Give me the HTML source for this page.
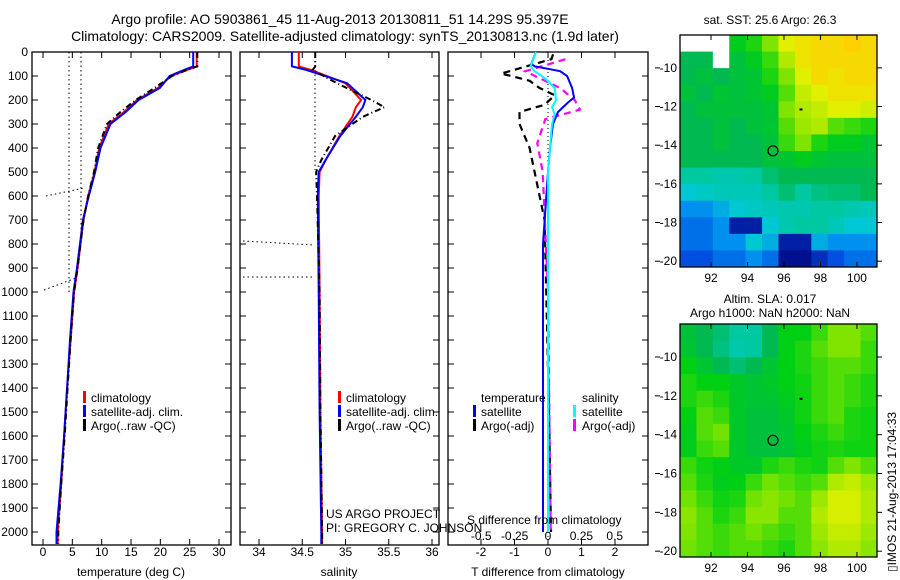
<!DOCTYPE html>
<html><head><meta charset="utf-8">
<style>
html,body{margin:0;padding:0;background:#fff;}
svg{display:block;font-family:"Liberation Sans",sans-serif;}
</style></head>
<body>
<svg id="fig" width="900" height="580" viewBox="0 0 900 580">
<text x="340" y="24" font-size="14" text-anchor="middle">Argo profile: AO 5903861_45 11-Aug-2013 20130811_51 14.29S 95.397E</text>
<text x="345" y="41" font-size="14" text-anchor="middle">Climatology: CARS2009. Satellite-adjusted climatology: synTS_20130813.nc (1.9d later)</text>
<g id="p1"></g>
<g id="p2"></g>
<g id="p3"></g>
<g id="m1"></g>
<g id="m2"></g>
<text x="770" y="24" font-size="12" text-anchor="middle">sat. SST: 25.6 Argo: 26.3</text>
<text x="770" y="303" font-size="12" text-anchor="middle">Altim. SLA: 0.017</text>
<text x="770" y="317" font-size="12" text-anchor="middle">Argo h1000: NaN h2000: NaN</text>
<text transform="translate(896,572) rotate(-90)" font-size="12">▯IMOS 21-Aug-2013 17:04:33</text>
</svg>
<script>
// ---- data ----
const tDepths = [0,60,75,100,150,200,250,300,400,500,600,700,800,900,1000,1200,1400,1600,1800,2000,2050];
const tClim   = [26.2,26.2,24.5,21.8,19.6,16.0,13.8,11.2,9.6,8.8,7.7,6.9,6.4,5.9,5.3,4.7,4.1,3.6,3.1,2.5,2.5];
const tSat    = [25.6,25.6,24.0,21.6,19.9,16.3,14.1,11.5,9.8,8.9,7.8,6.8,6.3,5.8,5.2,4.6,4.1,3.6,3.0,2.3,2.3];
const tArgo   = [26.3,26.3,24.5,22.0,19.0,15.8,13.2,10.9,9.4,8.7,7.7,6.9,6.4,5.9,5.3,4.7,4.2,3.7,3.1,2.6,2.6];
const sDepths = [0,60,75,130,200,230,270,350,450,500,600,1000,1500,2000,2050];
const sClim   = [34.46,34.46,34.6,35.0,35.18,35.12,35.08,34.93,34.77,34.7,34.69,34.7,34.71,34.73,34.73];
const sSat    = [34.38,34.38,34.55,35.02,35.23,35.2,35.12,34.94,34.77,34.69,34.68,34.69,34.7,34.72,34.72];
const sArgo   = [34.65,34.65,34.62,34.9,35.3,35.45,35.2,34.88,34.72,34.66,34.67,34.7,34.71,34.73,34.73];
const dtSatDepths = [0,50,60,70,80,100,150,190,210,250,300,400,500,800,2000];
const dtSat       = [-0.36,-0.5,-0.39,0,0.36,0.57,0.72,0.78,0.6,0.3,0.15,0.06,0,-0.15,-0.15];
const dsSatDepths = [0,60,80,110,150,200,230,260,300,500,2000];
const dsSat       = [-0.09,-0.13,-0.1,-0.02,0.05,0.06,0.03,0.05,0.03,0,0];
const dtArgoDepths= [10,30,90,100,120,150,180,220,250,300,400,500,700,1500,2000];
const dtArgo      = [0.15,0.1,-1.4,-1.1,-0.55,-0.25,0.2,-0.1,-0.85,-0.85,-0.55,-0.4,-0.1,0.03,0.09];
const dsArgoDepths= [30,80,110,150,200,240,280,380,500,1000,2000];
const dsArgo      = [0.13,-0.17,-0.06,0.09,0.2,0.24,-0.02,-0.08,-0.04,0,0.02];
const depthTicks = [0,100,200,300,400,500,600,700,800,900,1000,1100,1200,1300,1400,1500,1600,1700,1800,1900,2000];
const tTicks = [0,5,10,15,20,25,30];
const sTicks = [34,34.5,35,35.5,36];
const dtTicks = [-2,-1,0,1,2];
const dsTicks = [-0.5,-0.25,0,0.25,0.5];
const sstGrid = [
[-1,-1,-1,.65,.68,.75,.85,.88,.9,.9,.92,.9],
[.6,.6,-1,.62,.65,.7,.8,.88,.9,.9,.9,.9],
[.6,.62,.6,.62,.63,.68,.75,.85,.9,.88,.9,.9],
[.62,.6,.63,.62,.63,.65,.72,.82,.85,.88,.88,.88],
[.6,.62,.62,.62,.62,.63,.75,.8,.82,.85,.85,.83],
[.6,.6,.62,.6,.62,.63,.72,.78,.8,.72,.7,.68],
[.6,.6,.62,.6,.6,.62,.7,.75,.68,.65,.65,.63],
[.6,.6,.6,.6,.6,.62,.63,.65,.63,.62,.62,.62],
[.55,.55,.52,.53,.55,.58,.6,.6,.6,.6,.6,.6],
[.45,.48,.5,.5,.5,.55,.58,.55,.57,.58,.58,.6],
[.35,.35,.4,.45,.48,.5,.52,.52,.55,.55,.52,.5],
[.3,.3,.35,.1,.1,.45,.52,.55,.55,.5,.45,.45],
[.3,.3,.35,.35,.45,.4,.1,.1,.4,.35,.35,.35],
[.25,.25,.3,.3,.35,.3,.05,.05,.15,.25,.3,.3]];
const slaGrid = [
[.62,.6,.58,.55,.55,.6,.66,.66,.7,.75,.75,.72],
[.63,.6,.57,.53,.55,.6,.66,.68,.72,.75,.75,.7],
[.66,.63,.6,.58,.6,.63,.66,.68,.7,.72,.72,.7],
[.68,.66,.66,.64,.63,.64,.66,.67,.7,.72,.7,.68],
[.68,.7,.68,.64,.63,.63,.65,.67,.7,.72,.7,.68],
[.66,.72,.7,.64,.62,.62,.64,.67,.7,.72,.68,.67],
[.65,.72,.74,.64,.62,.62,.63,.66,.68,.7,.68,.67],
[.65,.7,.72,.64,.62,.62,.63,.65,.67,.68,.67,.67],
[.7,.67,.66,.64,.64,.68,.7,.68,.67,.72,.75,.72],
[.72,.68,.65,.66,.7,.74,.72,.7,.72,.8,.82,.78],
[.74,.7,.67,.68,.74,.76,.74,.72,.78,.84,.84,.8],
[.76,.72,.68,.7,.76,.76,.72,.72,.8,.84,.84,.8],
[.75,.72,.7,.72,.74,.72,.7,.72,.78,.82,.82,.78],
[.74,.72,.7,.72,.72,.7,.68,.72,.76,.8,.8,.76]];
const lonTicks = [92,94,96,98,100];
const sstLatTicks = [-10,-12,-14,-16,-18,-20];
const slaLatTicks = [-10,-12,-14,-16,-18,-20];
const argoLon = [95.397];
const argoLat = [-14.29];

const NS="http://www.w3.org/2000/svg";
function el(parent,tag,attrs){const e=document.createElementNS(NS,tag);for(const k in attrs)e.setAttribute(k,attrs[k]);parent.appendChild(e);return e;}
const Y0=52,Y1=545;
const yD = d => Y0 + d*0.24;
function line(g,xs,ds,xf,color,w,dash){
  const p=xs.map((v,i)=>xf(v).toFixed(1)+","+yD(ds[i]).toFixed(1)).join(" ");
  const a={points:p,fill:"none",stroke:color,"stroke-width":w};
  if(dash)a["stroke-dasharray"]=dash;
  return el(g,"polyline",a);
}
function frame(g,x0,x1){
  const r=el(g,"rect",{x:x0,y:Y0,width:x1-x0,height:Y1-Y0,fill:"none",stroke:"#000","stroke-width":1.3});
  
  
}
function xTicks(g,ticks,xf,ty,labels){
  ticks.forEach(t=>{
    const x=xf(t);
    el(g,"line",{x1:x,x2:x,y1:Y1,y2:Y1-6,stroke:"#000"});
    el(g,"line",{x1:x,x2:x,y1:Y0,y2:Y0+6,stroke:"#000"});
    if(labels){const tx=el(g,"text",{x:x,y:ty,"font-size":12,"text-anchor":"middle"});tx.textContent=t;
      
      }
  });
}
function yTicks(g,x0,x1,labels){
  depthTicks.forEach(d=>{
    const y=yD(d);
    el(g,"line",{x1:x0,x2:x0+6,y1:y,y2:y,stroke:"#000"});
    el(g,"line",{x1:x1,x2:x1-6,y1:y,y2:y,stroke:"#000"});
    if(labels){const t=el(g,"text",{x:28,y:y+4,"font-size":12,"text-anchor":"end"});t.textContent=d;
      
      }
  });
}
function txt(g,x,y,s,name,opts){const t=el(g,"text",Object.assign({x:x,y:y,"font-size":12},opts||{}));t.textContent=s;
  
  return t;}
function legBar(g,x,y,c){el(g,"rect",{x:x,y:y-11,width:3,height:12,fill:c});}

// ---- panel 1 temperature ----
const p1=document.getElementById('p1');
const xT=v=>43+v*5.867;
frame(p1,32,231); xTicks(p1,tTicks,xT,556,true); yTicks(p1,32,231,true);
el(p1,"line",{x1:69,x2:69,y1:Y0,y2:295,stroke:"#000","stroke-dasharray":"1.5,3"});
el(p1,"line",{x1:81,x2:81,y1:Y0,y2:232,stroke:"#000","stroke-dasharray":"1.5,3"});
el(p1,"line",{x1:46,x2:84,y1:196,y2:188,stroke:"#000","stroke-dasharray":"1.5,3"});
el(p1,"line",{x1:44,x2:76,y1:290,y2:278,stroke:"#000","stroke-dasharray":"1.5,3"});
line(p1,tClim,tDepths,xT,"#f00",2);
line(p1,tSat,tDepths,xT,"#00f",2);
line(p1,tArgo,tDepths,xT,"#000",2,"6,3,1,3");
legBar(p1,83,402,"#f00");txt(p1,91,402,"climatology","legend-climatology");
legBar(p1,83,416,"#00f");txt(p1,91,416,"satellite-adj. clim.","legend-satellite");
legBar(p1,83,430,"#000");txt(p1,91,430,"Argo(..raw -QC)","legend-argo");
txt(p1,131,576,"temperature (deg C)","x-axis-title",{"text-anchor":"middle"});

// ---- panel 2 salinity ----
const p2=document.getElementById('p2');
const xS=v=>259+(v-34)*86.5;
frame(p2,240,439); xTicks(p2,sTicks,xS,556,true); yTicks(p2,240,439,false);
el(p2,"line",{x1:315,x2:315,y1:Y0,y2:170,stroke:"#000","stroke-dasharray":"1.5,3"});
el(p2,"line",{x1:243,x2:315,y1:241,y2:245,stroke:"#000","stroke-dasharray":"1.5,3"});
el(p2,"line",{x1:243,x2:315,y1:277,y2:277,stroke:"#000","stroke-dasharray":"1.5,3"});
line(p2,sClim,sDepths,xS,"#f00",2);
line(p2,sSat,sDepths,xS,"#00f",2);
line(p2,sArgo,sDepths,xS,"#000",2,"6,3,1,3");
legBar(p2,338,402,"#f00");txt(p2,346,402,"climatology","legend-climatology");
legBar(p2,338,416,"#00f");txt(p2,346,416,"satellite-adj. clim.","legend-satellite");
legBar(p2,338,430,"#000");txt(p2,346,430,"Argo(..raw -QC)","legend-argo");
txt(p2,326,518,"US ARGO PROJECT","project-label");
txt(p2,326,532,"PI: GREGORY C. JOHNSON","pi-label");
txt(p2,339,576,"salinity","x-axis-title",{"text-anchor":"middle"});

// ---- panel 3 differences ----
const p3=document.getElementById('p3');
const xDT=v=>548+v*33.5, xDS=v=>548+v*133.5;
frame(p3,448,648); xTicks(p3,dtTicks,xDT,556,true);
dsTicks.forEach(t=>txt(p3,xDS(t),540,String(t),"s-tick-label",{"text-anchor":"middle"}));
depthTicks.forEach(d=>{el(p3,"line",{x1:448,x2:454,y1:yD(d),y2:yD(d),stroke:"#000"});el(p3,"line",{x1:648,x2:642,y1:yD(d),y2:yD(d),stroke:"#000"});});
el(p3,"line",{x1:548,x2:548,y1:Y0,y2:Y1,stroke:"#000","stroke-dasharray":"1,3"});
line(p3,dtArgo,dtArgoDepths,xDT,"#000",2.2,"7,5");
line(p3,dsArgo,dsArgoDepths,xDS,"#f0f",2.2,"7,5");
line(p3,dtSat,dtSatDepths,xDT,"#00f",2);
line(p3,dsSat,dsSatDepths,xDS,"#0ff",2);
txt(p3,481,402,"temperature","legend-temperature-header");
legBar(p3,473,416,"#00f");txt(p3,481,416,"satellite","legend-t-satellite");
legBar(p3,473,430,"#000");txt(p3,481,430,"Argo(-adj)","legend-t-argo");
txt(p3,582,402,"salinity","legend-salinity-header");
legBar(p3,573,416,"#0ff");txt(p3,582,416,"satellite","legend-s-satellite");
legBar(p3,573,430,"#f0f");txt(p3,582,430,"Argo(-adj)","legend-s-argo");
txt(p3,467,524,"S difference from climatology","s-axis-title");
txt(p3,548,576,"T difference from climatology","x-axis-title",{"text-anchor":"middle"});

// ---- maps ----
const stops=[[0,[0,0,122]],[0.25,[0,80,224]],[0.35,[0,144,240]],[0.45,[0,200,210]],[0.55,[0,200,160]],[0.6,[0,185,80]],[0.66,[0,208,20]],[0.75,[128,228,0]],[0.85,[224,240,0]],[0.92,[255,208,0]],[1,[255,160,0]]];
function cmap(v){
  if(v<0)return "#fff";
  for(let i=1;i<stops.length;i++){if(v<=stops[i][0]){const a=stops[i-1],b=stops[i],f=(v-a[0])/(b[0]-a[0]);
    const c=a[1].map((x,k)=>Math.round(x+(b[1][k]-x)*f));return `rgb(${c[0]},${c[1]},${c[2]})`;}}
  return "rgb(255,160,0)";
}
function drawMap(id,grid,x0,y0,x1,y1,latTop,latBot,latTicks){
  const g=document.getElementById(id);
  const rows=grid.length,cols=grid[0].length,cw=(x1-x0)/cols,ch=(y1-y0)/rows;
  grid.forEach((row,r)=>row.forEach((v,c)=>{
    const cell=el(g,"rect",{x:x0+c*cw,y:y0+r*ch,width:cw+0.5,height:ch+0.5,fill:cmap(v)});
    
    
  }));
  const lx=v=>x0+(v-90.3)*(x1-x0)/(101.1-90.3);
  const ly=v=>y0+(latTop-v)*(y1-y0)/(latTop-latBot);
  const fr=el(g,"rect",{x:x0,y:y0,width:x1-x0,height:y1-y0,fill:"none",stroke:"#000","stroke-width":1.3});
  
  
  lonTicks.forEach(t=>{const x=lx(t);el(g,"line",{x1:x,x2:x,y1:y1,y2:y1-5,stroke:"#000"});el(g,"line",{x1:x,x2:x,y1:y0,y2:y0+5,stroke:"#000"});
    txt(g,x,y1+15,String(t),"lon-tick-label",{"text-anchor":"middle"});});
  latTicks.forEach(t=>{const y=ly(t);el(g,"line",{x1:x1,x2:x1+5,y1:y,y2:y,stroke:"#000"});el(g,"line",{x1:x0-25,x2:x0-20,y1:y,y2:y,stroke:"#000"});
    txt(g,x0-3,y+4,String(t),"lat-tick-label",{"text-anchor":"end"});});
  argoLon.forEach((lo,i)=>{const m=el(g,"circle",{cx:lx(lo),cy:ly(argoLat[i]),r:5,fill:"none",stroke:"#000","stroke-width":1.2});
    
    });
  el(g,"rect",{x:lx(96.85),y:ly(-12.1),width:3,height:2,fill:"#000"});
}
drawMap("m1",sstGrid,680,35,877,267,-8.3,-20.3,sstLatTicks);
drawMap("m2",slaGrid,680,324,877,557,-8.3,-20.3,slaLatTicks);
</script>
</body></html>
